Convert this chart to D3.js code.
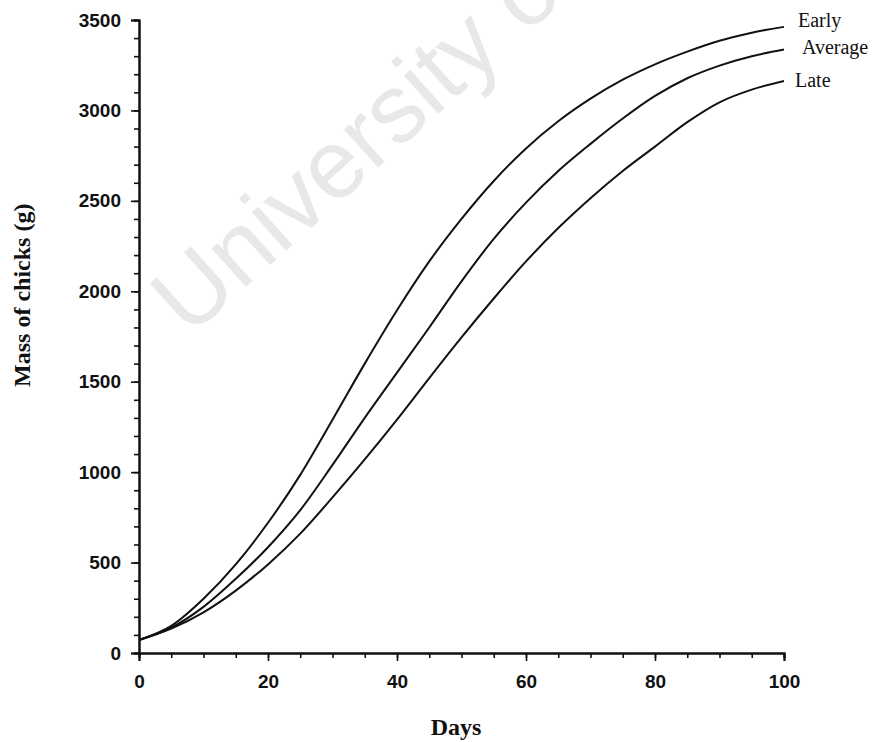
<!DOCTYPE html>
<html>
<head>
<meta charset="utf-8">
<script src="https://cdn.jsdelivr.net/npm/d3@7"></script>
<style>
  body { margin: 0; background: #fff; }
  svg { display: block; }
</style>
</head>
<body>
<div id="chart"></div>
<script>
// values, every 5 days
const days = [0, 5, 10, 15, 20, 25, 30, 35, 40, 45, 50, 55, 60, 65, 70, 75, 80, 85, 90, 95, 100];
const early = [72, 150, 300, 490, 720, 985, 1290, 1600, 1895, 2165, 2400, 2610, 2790, 2940, 3065, 3170, 3255, 3325, 3385, 3430, 3462];
const average = [72, 140, 255, 410, 585, 790, 1040, 1300, 1550, 1800, 2055, 2290, 2490, 2665, 2815, 2955, 3080, 3178, 3248, 3300, 3337];
const late = [72, 135, 225, 345, 490, 660, 860, 1070, 1290, 1520, 1745, 1960, 2165, 2350, 2515, 2665, 2800, 2935, 3045, 3115, 3163];
const seriesNames = ["Early", "Average", "Late"];
const xTicks = [0, 20, 40, 60, 80, 100];
const yTicks = [0, 500, 1000, 1500, 2000, 2500, 3000, 3500];

const width = 874, height = 742;
const svg = d3.select("#chart").append("svg").attr("width", width).attr("height", height);

const x = d3.scaleLinear().domain([0, 100]).range([139, 784]);
const y = d3.scaleLinear().domain([0, 3500]).range([653, 20]);

// faint watermark from the scan
svg.append("text")
  .attr("transform", "translate(189,338) rotate(-42)")
  .attr("font-family", "Liberation Sans, Arial, sans-serif")
  .attr("font-size", 97)
  .attr("fill", "#e8e8e8")
  .text("University of");

// minor ticks first, then majors with labels
const xAxisMinor = d3.axisBottom(x).ticks(20).tickSize(5).tickFormat("");
const xAxis = d3.axisBottom(x).tickValues(xTicks).tickSize(8).tickPadding(14).tickFormat(d3.format("d"));
const yAxisMinor = d3.axisLeft(y).ticks(35).tickSize(5).tickFormat("");
const yAxis = d3.axisLeft(y).tickValues(yTicks).tickSize(8).tickPadding(10).tickFormat(d3.format("d"));

function styleAxis(g) {
  g.select(".domain").attr("stroke", "#111").attr("stroke-width", 2);
  g.selectAll(".tick line").attr("stroke", "#111").attr("stroke-width", 1.6);
  g.selectAll(".tick text")
    .attr("fill", "#111")
    .attr("font-family", "Liberation Sans, Arial, sans-serif")
    .attr("font-weight", "bold")
    .attr("font-size", 19);
}

svg.append("g").attr("transform", `translate(0,${y(0)})`).call(xAxisMinor).call(styleAxis);
svg.append("g").attr("transform", `translate(0,${y(0)})`).call(xAxis).call(styleAxis);
svg.append("g").attr("transform", `translate(${x(0)},0)`).call(yAxisMinor).call(styleAxis);
svg.append("g").attr("transform", `translate(${x(0)},0)`).call(yAxis).call(styleAxis);

// curves
const series = [early, average, late];
const line = d3.line()
  .x((d, i) => x(days[i]))
  .y(d => y(d))
  .curve(d3.curveMonotoneX);

svg.append("g").selectAll("path").data(series).enter().append("path")
  .attr("d", line)
  .attr("fill", "none")
  .attr("stroke", "#111")
  .attr("stroke-width", 2);

// end labels
const labelOffset = [[14, 0], [18, 5], [11, 6]];
svg.append("g").selectAll("text").data(series).enter().append("text")
  .attr("x", (d, i) => x(days[days.length - 1]) + labelOffset[i][0])
  .attr("y", (d, i) => y(d[d.length - 1]) + labelOffset[i][1])
  .attr("font-family", "Liberation Serif, Times New Roman, serif")
  .attr("font-size", 20)
  .attr("fill", "#111")
  .text((d, i) => seriesNames[i]);

// axis titles
svg.append("text")
  .attr("x", 456)
  .attr("y", 735)
  .attr("text-anchor", "middle")
  .attr("font-family", "Liberation Serif, Times New Roman, serif")
  .attr("font-weight", "bold")
  .attr("font-size", 24)
  .attr("fill", "#111")
  .text("Days");

svg.append("text")
  .attr("transform", `translate(30,${y(2000) + 4}) rotate(-90)`)
  .attr("text-anchor", "middle")
  .attr("font-family", "Liberation Serif, Times New Roman, serif")
  .attr("font-weight", "bold")
  .attr("font-size", 24)
  .attr("fill", "#111")
  .text("Mass of chicks (g)");
</script>
</body>
</html>
